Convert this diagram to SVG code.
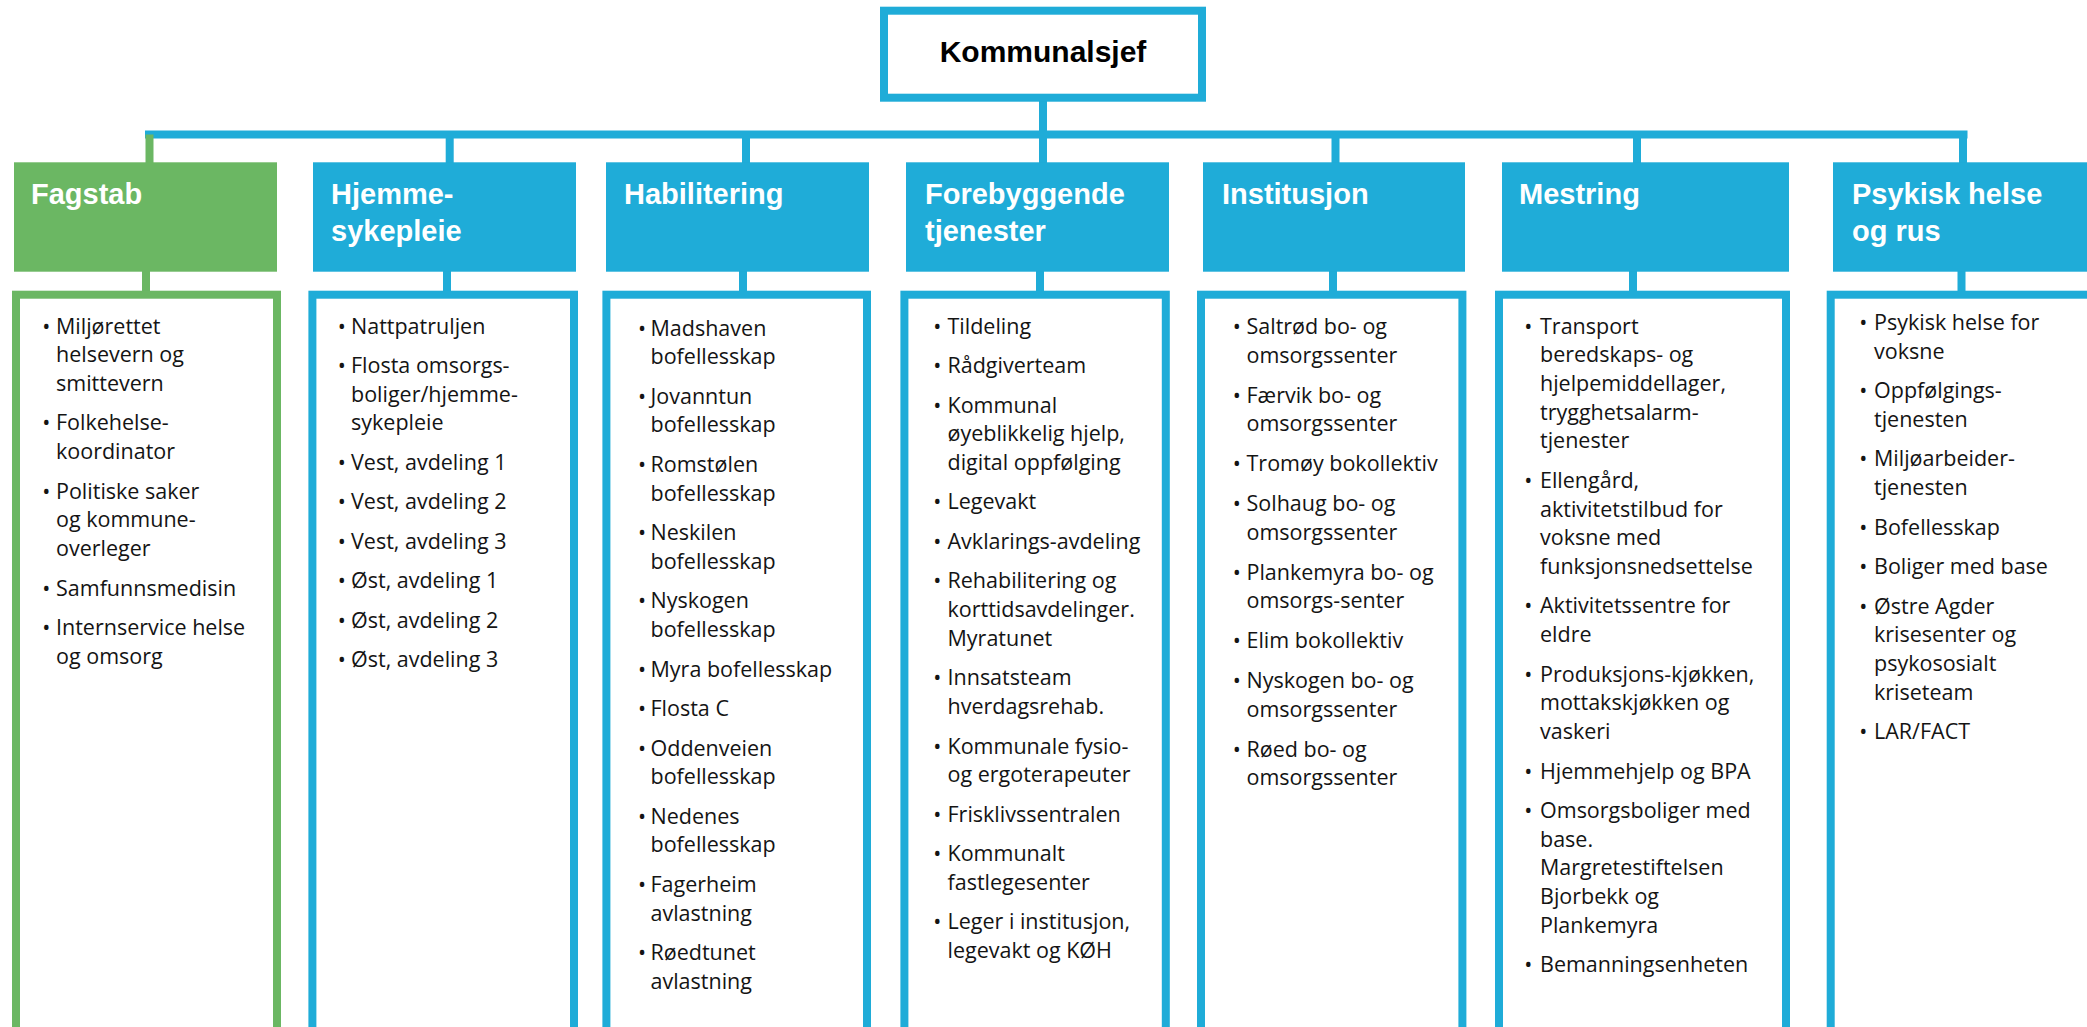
<svg xmlns="http://www.w3.org/2000/svg" width="2087" height="1027" viewBox="0 0 2087 1027">
<style>
.hb{fill:#1FACD8}
.hg{fill:#6BB763}
.lb{fill:#fff;stroke:#1FACD8;stroke-width:8}
.lg{fill:#fff;stroke:#6BB763;stroke-width:8}
.ht{font-family:"Liberation Sans",Arial,sans-serif;font-weight:bold;font-size:29px;fill:#fff}
.kt{font-family:"Liberation Sans",Arial,sans-serif;font-weight:bold;font-size:30px;fill:#000}
.t{font-family:"Open Sans","Noto Sans",sans-serif;font-size:21.5px;fill:#141414}
.b{font-family:"Open Sans","Noto Sans",sans-serif;font-size:21.5px;fill:#141414;text-anchor:middle}
.cb{fill:none;stroke:#1FACD8;stroke-width:8}
.cg{fill:none;stroke:#6BB763;stroke-width:8}
</style>
<g id="connectors">
<path class="cb" d="M1043,101 V135 M145,134.5 H1967.5 M1043,134.5 V163 M449.7,134.5 V163 M746,134.5 V163 M1335.5,134.5 V163 M1637,134.5 V163 M1963,134.5 V163"/>
<path class="cg" d="M149.5,134.5 V163"/>
<path class="cg" d="M146,271 V292"/>
<path class="cb" d="M447,271 V292 M743,271 V292 M1040,271 V292 M1333,271 V292 M1633,271 V292 M1961.5,271 V292"/>
</g>
<g id="kommunalsjef">
<rect x="884" y="10.7" width="318" height="87" fill="#fff" stroke="#1FACD8" stroke-width="8"/>
<text class="kt" x="1043" y="62" text-anchor="middle">Kommunalsjef</text>
</g>
<g id="fagstab">
<rect class="hg" x="14" y="162.3" width="263" height="109.4"/>
<text class="ht" x="31" y="203.5">Fagstab</text>
</g>
<g id="hjemmesykepleie">
<rect class="hb" x="313" y="162.3" width="263" height="109.4"/>
<text class="ht"><tspan x="331" y="203.5">Hjemme-</tspan><tspan x="331" y="240.5">sykepleie</tspan></text>
</g>
<g id="habilitering">
<rect class="hb" x="606" y="162.3" width="263" height="109.4"/>
<text class="ht" x="624" y="203.5">Habilitering</text>
</g>
<g id="forebyggende">
<rect class="hb" x="906" y="162.3" width="263" height="109.4"/>
<text class="ht"><tspan x="925" y="203.5">Forebyggende</tspan><tspan x="925" y="240.5">tjenester</tspan></text>
</g>
<g id="institusjon">
<rect class="hb" x="1203" y="162.3" width="262" height="109.4"/>
<text class="ht" x="1222" y="203.5">Institusjon</text>
</g>
<g id="mestring">
<rect class="hb" x="1502" y="162.3" width="287" height="109.4"/>
<text class="ht" x="1519" y="203.5">Mestring</text>
</g>
<g id="psykisk">
<rect class="hb" x="1833" y="162.3" width="260" height="109.4"/>
<text class="ht"><tspan x="1852" y="203.5">Psykisk helse</tspan><tspan x="1852" y="240.5">og rus</tspan></text>
</g>
<g id="fagstab-liste">
<rect class="lg" x="16" y="294.7" width="261" height="760"/>
<g class="b"><text x="46.3" y="333.5">•</text><text x="46.3" y="430.4">•</text><text x="46.3" y="498.6">•</text><text x="46.3" y="595.5">•</text><text x="46.3" y="635">•</text></g>
<text class="t"><tspan x="56" y="333.5">Miljørettet</tspan><tspan x="56" y="362.2">helsevern og</tspan><tspan x="56" y="390.9">smittevern</tspan><tspan x="56" y="430.4">Folkehelse-</tspan><tspan x="56" y="459.1">koordinator</tspan><tspan x="56" y="498.6">Politiske saker</tspan><tspan x="56" y="527.3">og kommune-</tspan><tspan x="56" y="556">overleger</tspan><tspan x="56" y="595.5">Samfunnsmedisin</tspan><tspan x="56" y="635">Internservice helse</tspan><tspan x="56" y="663.7">og omsorg</tspan></text>
</g>
<g id="hjemmesykepleie-liste">
<rect class="lb" x="312.4" y="294.7" width="261.6" height="760"/>
<g class="b"><text x="341.8" y="333.5">•</text><text x="341.8" y="373">•</text><text x="341.8" y="469.9">•</text><text x="341.8" y="509.4">•</text><text x="341.8" y="548.9">•</text><text x="341.8" y="588.4">•</text><text x="341.8" y="627.9">•</text><text x="341.8" y="667.4">•</text></g>
<text class="t"><tspan x="351" y="333.5">Nattpatruljen</tspan><tspan x="351" y="373">Flosta omsorgs-</tspan><tspan x="351" y="401.7">boliger/hjemme-</tspan><tspan x="351" y="430.4">sykepleie</tspan><tspan x="351" y="469.9">Vest, avdeling 1</tspan><tspan x="351" y="509.4">Vest, avdeling 2</tspan><tspan x="351" y="548.9">Vest, avdeling 3</tspan><tspan x="351" y="588.4">Øst, avdeling 1</tspan><tspan x="351" y="627.9">Øst, avdeling 2</tspan><tspan x="351" y="667.4">Øst, avdeling 3</tspan></text>
</g>
<g id="habilitering-liste">
<rect class="lb" x="606.4" y="294.7" width="260.6" height="760"/>
<g class="b"><text x="642" y="335.5">•</text><text x="642" y="403.7">•</text><text x="642" y="471.9">•</text><text x="642" y="540.1">•</text><text x="642" y="608.3">•</text><text x="642" y="676.5">•</text><text x="642" y="716">•</text><text x="642" y="755.5">•</text><text x="642" y="823.7">•</text><text x="642" y="891.9">•</text><text x="642" y="960.1">•</text></g>
<text class="t"><tspan x="650.5" y="335.5">Madshaven</tspan><tspan x="650.5" y="364.2">bofellesskap</tspan><tspan x="650.5" y="403.7">Jovanntun</tspan><tspan x="650.5" y="432.4">bofellesskap</tspan><tspan x="650.5" y="471.9">Romstølen</tspan><tspan x="650.5" y="500.6">bofellesskap</tspan><tspan x="650.5" y="540.1">Neskilen</tspan><tspan x="650.5" y="568.8">bofellesskap</tspan><tspan x="650.5" y="608.3">Nyskogen</tspan><tspan x="650.5" y="637">bofellesskap</tspan><tspan x="650.5" y="676.5">Myra bofellesskap</tspan><tspan x="650.5" y="716">Flosta C</tspan><tspan x="650.5" y="755.5">Oddenveien</tspan><tspan x="650.5" y="784.2">bofellesskap</tspan><tspan x="650.5" y="823.7">Nedenes</tspan><tspan x="650.5" y="852.4">bofellesskap</tspan><tspan x="650.5" y="891.9">Fagerheim</tspan><tspan x="650.5" y="920.6">avlastning</tspan><tspan x="650.5" y="960.1">Røedtunet</tspan><tspan x="650.5" y="988.8">avlastning</tspan></text>
</g>
<g id="forebyggende-liste">
<rect class="lb" x="904.4" y="294.7" width="261.4" height="760"/>
<g class="b"><text x="937.2" y="333.5">•</text><text x="937.2" y="373">•</text><text x="937.2" y="412.5">•</text><text x="937.2" y="509.4">•</text><text x="937.2" y="548.9">•</text><text x="937.2" y="588.4">•</text><text x="937.2" y="685.3">•</text><text x="937.2" y="753.5">•</text><text x="937.2" y="821.7">•</text><text x="937.2" y="861.2">•</text><text x="937.2" y="929.4">•</text></g>
<text class="t"><tspan x="947.5" y="333.5">Tildeling</tspan><tspan x="947.5" y="373">Rådgiverteam</tspan><tspan x="947.5" y="412.5">Kommunal</tspan><tspan x="947.5" y="441.2">øyeblikkelig hjelp,</tspan><tspan x="947.5" y="469.9">digital oppfølging</tspan><tspan x="947.5" y="509.4">Legevakt</tspan><tspan x="947.5" y="548.9">Avklarings-avdeling</tspan><tspan x="947.5" y="588.4">Rehabilitering og</tspan><tspan x="947.5" y="617.1">korttidsavdelinger.</tspan><tspan x="947.5" y="645.8">Myratunet</tspan><tspan x="947.5" y="685.3">Innsatsteam</tspan><tspan x="947.5" y="714">hverdagsrehab.</tspan><tspan x="947.5" y="753.5">Kommunale fysio-</tspan><tspan x="947.5" y="782.2">og ergoterapeuter</tspan><tspan x="947.5" y="821.7">Frisklivssentralen</tspan><tspan x="947.5" y="861.2">Kommunalt</tspan><tspan x="947.5" y="889.9">fastlegesenter</tspan><tspan x="947.5" y="929.4">Leger i institusjon,</tspan><tspan x="947.5" y="958.1">legevakt og KØH</tspan></text>
</g>
<g id="institusjon-liste">
<rect class="lb" x="1201" y="294.7" width="261.4" height="760"/>
<g class="b"><text x="1236.8" y="333.8">•</text><text x="1236.8" y="402.5">•</text><text x="1236.8" y="471.2">•</text><text x="1236.8" y="510.9">•</text><text x="1236.8" y="579.6">•</text><text x="1236.8" y="648.3">•</text><text x="1236.8" y="688">•</text><text x="1236.8" y="756.7">•</text></g>
<text class="t"><tspan x="1246.5" y="333.8">Saltrød bo- og</tspan><tspan x="1246.5" y="362.5">omsorgssenter</tspan><tspan x="1246.5" y="402.5">Færvik bo- og</tspan><tspan x="1246.5" y="431.2">omsorgssenter</tspan><tspan x="1246.5" y="471.2">Tromøy bokollektiv</tspan><tspan x="1246.5" y="510.9">Solhaug bo- og</tspan><tspan x="1246.5" y="539.6">omsorgssenter</tspan><tspan x="1246.5" y="579.6">Plankemyra bo- og</tspan><tspan x="1246.5" y="608.3">omsorgs-senter</tspan><tspan x="1246.5" y="648.3">Elim bokollektiv</tspan><tspan x="1246.5" y="688">Nyskogen bo- og</tspan><tspan x="1246.5" y="716.7">omsorgssenter</tspan><tspan x="1246.5" y="756.7">Røed bo- og</tspan><tspan x="1246.5" y="785.4">omsorgssenter</tspan></text>
</g>
<g id="mestring-liste">
<rect class="lb" x="1499" y="294.7" width="287" height="760"/>
<g class="b"><text x="1528.3" y="333.5">•</text><text x="1528.3" y="487.8">•</text><text x="1528.3" y="613.4">•</text><text x="1528.3" y="681.6">•</text><text x="1528.3" y="778.5">•</text><text x="1528.3" y="818">•</text><text x="1528.3" y="972.3">•</text></g>
<text class="t"><tspan x="1540" y="333.5">Transport</tspan><tspan x="1540" y="362.2">beredskaps- og</tspan><tspan x="1540" y="390.9">hjelpemiddellager,</tspan><tspan x="1540" y="419.6">trygghetsalarm-</tspan><tspan x="1540" y="448.3">tjenester</tspan><tspan x="1540" y="487.8">Ellengård,</tspan><tspan x="1540" y="516.5">aktivitetstilbud for</tspan><tspan x="1540" y="545.2">voksne med</tspan><tspan x="1540" y="573.9">funksjonsnedsettelse</tspan><tspan x="1540" y="613.4">Aktivitetssentre for</tspan><tspan x="1540" y="642.1">eldre</tspan><tspan x="1540" y="681.6">Produksjons-kjøkken,</tspan><tspan x="1540" y="710.3">mottakskjøkken og</tspan><tspan x="1540" y="739">vaskeri</tspan><tspan x="1540" y="778.5">Hjemmehjelp og BPA</tspan><tspan x="1540" y="818">Omsorgsboliger med</tspan><tspan x="1540" y="846.7">base.</tspan><tspan x="1540" y="875.4">Margretestiftelsen</tspan><tspan x="1540" y="904.1">Bjorbekk og</tspan><tspan x="1540" y="932.8">Plankemyra</tspan><tspan x="1540" y="972.3">Bemanningsenheten</tspan></text>
</g>
<g id="psykisk-liste">
<rect class="lb" x="1830.7" y="294.7" width="300" height="760"/>
<g class="b"><text x="1863.2" y="330">•</text><text x="1863.2" y="398.2">•</text><text x="1863.2" y="466.4">•</text><text x="1863.2" y="534.6">•</text><text x="1863.2" y="574.1">•</text><text x="1863.2" y="613.6">•</text><text x="1863.2" y="739.2">•</text></g>
<text class="t"><tspan x="1874" y="330">Psykisk helse for</tspan><tspan x="1874" y="358.7">voksne</tspan><tspan x="1874" y="398.2">Oppfølgings-</tspan><tspan x="1874" y="426.9">tjenesten</tspan><tspan x="1874" y="466.4">Miljøarbeider-</tspan><tspan x="1874" y="495.1">tjenesten</tspan><tspan x="1874" y="534.6">Bofellesskap</tspan><tspan x="1874" y="574.1">Boliger med base</tspan><tspan x="1874" y="613.6">Østre Agder</tspan><tspan x="1874" y="642.3">krisesenter og</tspan><tspan x="1874" y="671">psykososialt</tspan><tspan x="1874" y="699.7">kriseteam</tspan><tspan x="1874" y="739.2">LAR/FACT</tspan></text>
</g>
</svg>
